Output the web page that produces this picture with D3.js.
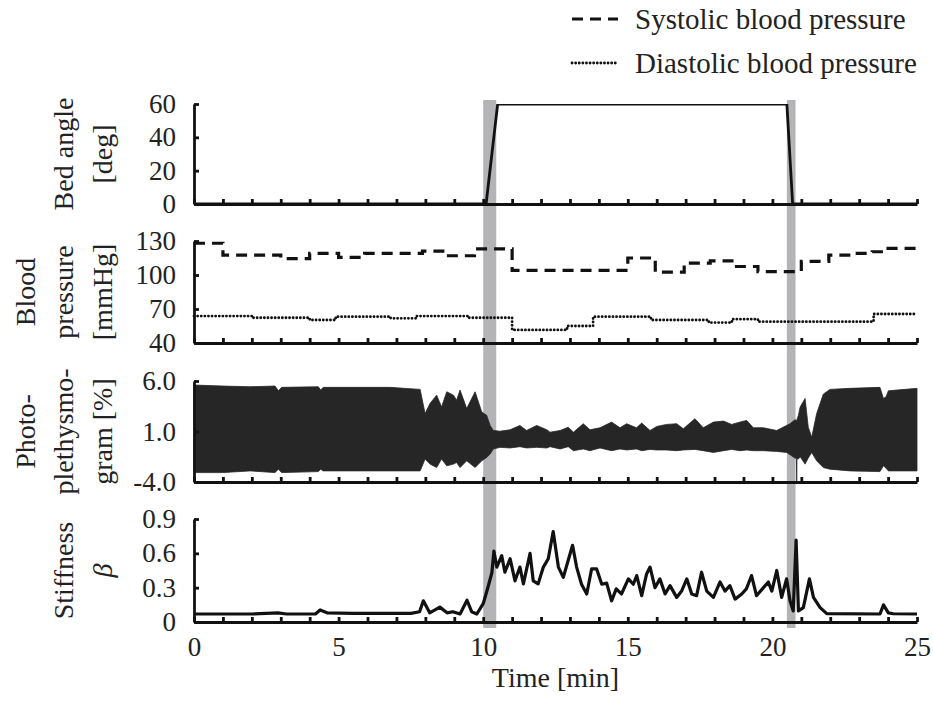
<!DOCTYPE html>
<html>
<head>
<meta charset="utf-8">
<script src="https://cdn.jsdelivr.net/npm/d3@7"></script>
<style>
body { margin: 0; background: #fff; }
svg text { font-family: "Liberation Serif", "Times New Roman", serif; fill: #222; }
</style>
</head>
<body>
<div id="chart"></div>
<script>
const timeLabels = [0, 5, 10, 15, 20, 25];
const transStart = [10.0, 20.5];
const transEnd = [10.45, 20.8];

const bedTime = [0, 10.1, 10.5, 20.5, 20.7, 25];
const bedAngle = [0, 0, 60, 60, 0, 0];

const sysTime = [0, 1.0, 3.0, 4.0, 5.0, 5.9, 7.9, 8.7, 9.7, 11.0, 15.0, 15.95, 16.95, 17.85, 18.6, 19.5, 21.0, 21.95, 22.8, 23.45, 24.0, 25];
const sysValue = [128, 117.5, 114.5, 119, 115.5, 119, 121, 117, 123, 104, 115, 102.5, 110.5, 112.5, 107.5, 103, 112, 117.5, 119, 120.5, 123.5, 123.5];

const diaTime = [0, 2.0, 4.0, 4.9, 6.8, 7.7, 9.5, 11.0, 12.9, 13.8, 15.8, 17.8, 18.6, 19.5, 23.5, 25];
const diaValue = [63.8, 62.3, 60.3, 63.2, 61.8, 63.8, 62.3, 51.5, 55, 63.2, 60.3, 58, 61, 58.8, 65.6, 65.6];

const ppgTime = [0, 1.0, 1.94, 2.8, 2.92, 3.03, 4.3, 4.38, 4.47, 5.62, 6.78, 7.82, 7.99, 8.16, 8.39, 8.56, 8.74, 8.97, 9.08, 9.2, 9.43, 9.72, 9.95, 10.12, 10.24, 10.35, 10.58, 10.93, 11.27, 11.5, 11.85, 12.2,
  12.31, 12.66, 12.94, 13.12, 13.46, 13.69, 14.04, 14.44, 14.73, 14.96, 15.3, 15.48, 15.77, 16.0, 16.34, 16.69, 16.92, 17.32, 17.61, 17.96, 18.31, 18.59, 18.88, 19.11, 19.34, 19.69, 20.15, 20.49, 20.61, 20.78, 20.83, 20.84, 20.85, 20.9, 20.96, 21.13, 21.24, 21.36, 21.53, 21.76, 21.99, 22.68, 23.72, 23.84, 23.93, 24.01, 25.0];
const ppgUpper = [5.6, 5.5, 5.43, 5.5, 5.03, 5.37, 5.43, 5.1, 5.37, 5.37, 5.37, 5.17, 2.77, 3.77, 4.6, 3.43, 4.93, 4.6, 4.1, 5.1, 3.27, 4.93, 2.93, 2.6, 1.6, 1.1, 1.03, 1.17, 1.6, 1.1, 1.6, 1.17,
  0.93, 1.1, 1.43, 0.93, 1.77, 1.17, 1.37, 1.93, 1.37, 1.77, 1.37, 1.83, 1.1, 1.5, 1.7, 1.77, 1.27, 2.27, 1.37, 1.93, 2.03, 1.7, 1.93, 2.1, 1.37, 1.37, 1.1, 1.6, 1.77, 2.17, 2.1, 2.1, 2.2, 2.6, 3.43, 4.27, 1.43, 0.43, 2.77, 4.7, 5.17, 5.27, 5.37, 4.27, 4.43, 5.03, 5.27];
const ppgLower = [-3.07, -3.07, -2.9, -3.07, -2.73, -3.07, -2.97, -2.73, -2.9, -2.9, -2.9, -2.9, -1.73, -2.23, -2.57, -1.73, -2.4, -2.23, -2.07, -2.57, -1.9, -2.57, -1.9, -1.57, -1.23, -0.73, -0.57, -0.63, -0.5, -0.63, -0.57, -0.63,
  -0.5, -0.73, -0.5, -0.9, -0.73, -0.9, -0.63, -0.9, -0.73, -0.83, -0.73, -0.9, -0.77, -0.83, -0.83, -0.9, -0.83, -0.77, -0.9, -1.07, -0.9, -0.77, -0.9, -0.83, -0.9, -0.9, -0.97, -1.07, -1.3, -1.63, -1.65, -3.9, -1.7, -1.73, -1.5, -2.23, -1.63, -1.07, -1.9, -2.57, -2.73, -2.9, -2.97, -2.4, -2.63, -2.9, -2.9];

const stiffTime = [0, 1.0, 2.0, 2.9, 3.2, 4.2, 4.36, 4.6, 5.5, 6.5, 7.5, 7.8, 7.93, 8.15, 8.5, 8.75, 8.95, 9.2, 9.44, 9.6, 9.78, 10.0, 10.15, 10.3, 10.37, 10.47, 10.64, 10.75, 10.93, 11.1, 11.27, 11.39, 11.62, 11.73, 11.9, 12.08, 12.25, 12.42,
  12.6, 12.77, 12.94, 13.09, 13.23, 13.4, 13.58, 13.75, 13.92, 14.1, 14.27, 14.44, 14.6, 14.78, 15.02, 15.19, 15.31, 15.48, 15.65, 15.77, 15.94, 16.11, 16.29, 16.46, 16.69, 16.86, 17.04, 17.21, 17.38, 17.55, 17.73, 17.96,
  18.19, 18.36, 18.53, 18.71, 18.94, 19.1, 19.28, 19.45, 19.69, 19.86, 19.98, 20.15, 20.32, 20.49, 20.61, 20.72, 20.82, 20.9, 21.07, 21.28, 21.42, 21.65, 21.88, 23.72, 23.84, 24.01, 24.18, 25.0];
const stiffValue = [0.07, 0.07, 0.07, 0.08, 0.07, 0.07, 0.105, 0.08, 0.075, 0.075, 0.075, 0.09, 0.185, 0.08, 0.13, 0.08, 0.09, 0.07, 0.19, 0.09, 0.07, 0.16, 0.29, 0.43, 0.62, 0.48, 0.58, 0.435, 0.553, 0.36, 0.48, 0.333, 0.6, 0.36, 0.333, 0.48, 0.553, 0.79,
  0.48, 0.39, 0.54, 0.67, 0.48, 0.33, 0.245, 0.465, 0.465, 0.33, 0.34, 0.185, 0.29, 0.245, 0.377, 0.33, 0.406, 0.23, 0.42, 0.48, 0.30, 0.377, 0.245, 0.318, 0.215, 0.27, 0.377, 0.245, 0.23, 0.435, 0.27, 0.215,
  0.35, 0.27, 0.318, 0.2, 0.245, 0.29, 0.406, 0.23, 0.30, 0.35, 0.27, 0.45, 0.215, 0.377, 0.185, 0.097, 0.715, 0.097, 0.126, 0.377, 0.215, 0.126, 0.073, 0.07, 0.15, 0.08, 0.072, 0.07];

const bedTicks = [0, 20, 40, 60];
const bpTicks = [40, 70, 100, 130];
const ppgTicks = [-4, 1, 6];
const ppgTickLabels = ["-4.0", "1.0", "6.0"];
const stiffTicks = [0, 0.3, 0.6, 0.9];
const stiffTickLabels = ["0", "0.3", "0.6", "0.9"];

const width = 933, height = 704;
const tickFont = 27, titleFont = 28, legendFont = 29;

const svg = d3.select("#chart").append("svg")
    .attr("width", width)
    .attr("height", height);

const x = d3.scaleLinear().domain([0, 25]).range([194, 917]);

const panels = [
    {domain: [0, 60], range: [204, 104], ticks: bedTicks, labels: bedTicks.map(String), title: ["Bed angle", "[deg]"]},
    {domain: [40, 130], range: [343, 241], ticks: bpTicks, labels: bpTicks.map(String), title: ["Blood", "pressure", "[mmHg]"]},
    {domain: [-4, 6], range: [482, 381], ticks: ppgTicks, labels: ppgTickLabels, title: ["Photo-", "plethysmo-", "gram [%]"]},
    {domain: [0, 0.9], range: [622, 519], ticks: stiffTicks, labels: stiffTickLabels, title: ["Stiffness", "β"]}
];
panels.forEach(p => { p.y = d3.scaleLinear().domain(p.domain).range(p.range); });

// transition shading
svg.selectAll("rect.band")
    .data(transStart)
    .enter().append("rect")
    .attr("class", "band")
    .attr("x", d => x(d))
    .attr("width", (d, i) => x(transEnd[i]) - x(d))
    .attr("y", 100)
    .attr("height", 528)
    .style("fill", "#b4b4b7");

// bed angle
const yBed = panels[0].y;
svg.append("clipPath").attr("id", "bedClip")
    .append("rect")
    .attr("x", x(0)).attr("y", yBed(60))
    .attr("width", x(25) - x(0)).attr("height", yBed(0) - yBed(60) + 4);

svg.append("path")
    .datum(bedTime)
    .attr("clip-path", "url(#bedClip)")
    .attr("d", d3.line().x(d => x(d)).y((d, i) => yBed(bedAngle[i])))
    .style("fill", "none")
    .style("stroke", "#111")
    .style("stroke-width", 2.8);

// blood pressure
const yBp = panels[1].y;
svg.append("path")
    .datum(sysTime)
    .attr("d", d3.line().curve(d3.curveStepAfter).x(d => x(d)).y((d, i) => yBp(sysValue[i])))
    .style("fill", "none")
    .style("stroke", "#111")
    .style("stroke-width", 3.2)
    .style("stroke-dasharray", "11,7");

svg.append("path")
    .datum(diaTime)
    .attr("d", d3.line().curve(d3.curveStepAfter).x(d => x(d)).y((d, i) => yBp(diaValue[i])))
    .style("fill", "none")
    .style("stroke", "#111")
    .style("stroke-width", 2.8)
    .style("stroke-linecap", "round")
    .style("stroke-dasharray", "0.1,3.5");

// photoplethysmogram envelope
const yPpg = panels[2].y;
svg.append("path")
    .datum(ppgTime)
    .attr("d", d3.area().x(d => x(d)).y0((d, i) => yPpg(ppgLower[i])).y1((d, i) => yPpg(ppgUpper[i])))
    .style("fill", "#262626")
    .style("stroke", "#262626")
    .style("stroke-width", 0.8);

// stiffness
const yStiff = panels[3].y;
svg.append("path")
    .datum(stiffTime)
    .attr("d", d3.line().x(d => x(d)).y((d, i) => yStiff(stiffValue[i])))
    .style("fill", "none")
    .style("stroke", "#111")
    .style("stroke-width", 3.2)
    .style("stroke-linejoin", "round");

// axes
panels.forEach(p => {
    const gy = svg.append("g")
        .attr("class", "y axis")
        .attr("transform", `translate(${x(0)},0)`)
        .call(d3.axisLeft(p.y).tickValues(p.ticks).tickSize(-5).tickSizeOuter(0).tickPadding(18)
            .tickFormat((d, i) => p.labels[i]));

    const gx = svg.append("g")
        .attr("class", "x axis")
        .attr("transform", `translate(0,${p.range[0]})`)
        .call(d3.axisBottom(x).tickValues(d3.range(0, 26)).tickSize(-5).tickSizeOuter(0).tickFormat(""));

    [gy, gx].forEach(g => {
        g.selectAll("path, line").style("stroke", "#111").style("stroke-width", 2.8);
        g.selectAll("text").style("font-size", tickFont + "px").style("fill", "#222");
    });

    const cy = (p.range[0] + p.range[1]) / 2;
    const cols = p.title.length === 3 ? [25, 63, 102] : [63, 102];
    p.title.forEach((t, i) => {
        svg.append("text")
            .attr("transform", `translate(${cols[i]},${cy}) rotate(-90)`)
            .attr("text-anchor", "middle")
            .attr("dy", "0.35em")
            .style("font-size", titleFont + "px")
            .style("font-style", t === "β" ? "italic" : "normal")
            .text(t);
    });
});

svg.append("g")
    .attr("class", "x labels")
    .attr("transform", `translate(0,${panels[3].range[0]})`)
    .call(d3.axisBottom(x).tickValues(timeLabels).tickSize(0).tickPadding(15).tickFormat(d3.format("d")))
    .call(g => g.select(".domain").remove())
    .selectAll("text")
        .style("font-size", tickFont + "px")
        .style("fill", "#222");

svg.append("text")
    .attr("x", (x(0) + x(25)) / 2)
    .attr("y", 687)
    .attr("text-anchor", "middle")
    .style("font-size", titleFont + "px")
    .text("Time [min]");

// legend
const legend = [
    {label: "Systolic blood pressure", dash: "11,7", width: 3.2, cap: "butt", y: 19},
    {label: "Diastolic blood pressure", dash: "0.1,3.5", width: 2.8, cap: "round", y: 63}
];
const lg = svg.append("g").attr("class", "legend");
lg.selectAll("line")
    .data(legend)
    .enter().append("line")
    .attr("x1", 572).attr("x2", 618)
    .attr("y1", d => d.y).attr("y2", d => d.y)
    .style("stroke", "#111")
    .style("stroke-width", d => d.width)
    .style("stroke-linecap", d => d.cap)
    .style("stroke-dasharray", d => d.dash);
lg.selectAll("text")
    .data(legend)
    .enter().append("text")
    .attr("x", 635)
    .attr("y", d => d.y)
    .attr("dy", "0.35em")
    .style("font-size", legendFont + "px")
    .text(d => d.label);
</script>
</body>
</html>
